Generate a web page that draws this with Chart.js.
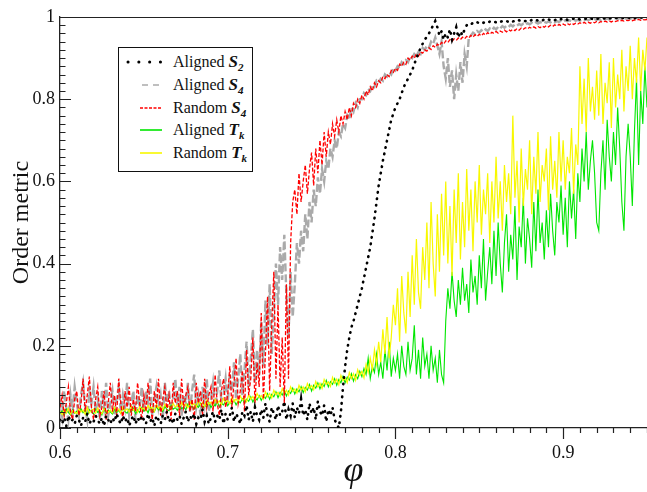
<!DOCTYPE html>
<html>
<head>
<meta charset="utf-8">
<script src="https://cdn.jsdelivr.net/npm/chart.js@4/dist/chart.umd.min.js"></script>
<style>
  body { margin: 0; background: #fff; }
  #wrap { position: relative; width: 647px; height: 492px; }
  #legend {
    position: absolute; left: 118px; top: 47px; width: 133px; height: 123px;
    border: 1px solid #111; background: #fff;
    font-family: 'Liberation Serif', 'Times New Roman', serif; font-size: 16px; color: #111;
  }
  #legend .row { position: absolute; left: 6px; height: 22px; display: flex; align-items: center; white-space: nowrap; }
  #legend svg { display: block; }
  #legend .sym { font-weight: bold; font-style: italic; font-size: 17px; }
  #legend sub { font-size: 11px; vertical-align: -4px; line-height: 0; }
</style>
</head>
<body>
<div id="wrap">
  <canvas id="chart" width="647" height="492"></canvas>
  <div id="legend"></div>
</div>
<script>
// packing fraction samples, 8 per 0.01
const phi = [
  0.6, 0.60125, 0.6025, 0.60375, 0.605, 0.60625, 0.6075, 0.60875,
  0.61, 0.61125, 0.6125, 0.61375, 0.615, 0.61625, 0.6175, 0.61875,
  0.62, 0.62125, 0.6225, 0.62375, 0.625, 0.62625, 0.6275, 0.62875,
  0.63, 0.63125, 0.6325, 0.63375, 0.635, 0.63625, 0.6375, 0.63875,
  0.64, 0.64125, 0.6425, 0.64375, 0.645, 0.64625, 0.6475, 0.64875,
  0.65, 0.65125, 0.6525, 0.65375, 0.655, 0.65625, 0.6575, 0.65875,
  0.66, 0.66125, 0.6625, 0.66375, 0.665, 0.66625, 0.6675, 0.66875,
  0.67, 0.67125, 0.6725, 0.67375, 0.675, 0.67625, 0.6775, 0.67875,
  0.68, 0.68125, 0.6825, 0.68375, 0.685, 0.68625, 0.6875, 0.68875,
  0.69, 0.69125, 0.6925, 0.69375, 0.695, 0.69625, 0.6975, 0.69875,
  0.7, 0.70125, 0.7025, 0.70375, 0.705, 0.70625, 0.7075, 0.70875,
  0.71, 0.71125, 0.7125, 0.71375, 0.715, 0.71625, 0.7175, 0.71875,
  0.72, 0.72125, 0.7225, 0.72375, 0.725, 0.72625, 0.7275, 0.72875,
  0.73, 0.73125, 0.7325, 0.73375, 0.735, 0.73625, 0.7375, 0.73875,
  0.74, 0.74125, 0.7425, 0.74375, 0.745, 0.74625, 0.7475, 0.74875,
  0.75, 0.75125, 0.7525, 0.75375, 0.755, 0.75625, 0.7575, 0.75875,
  0.76, 0.76125, 0.7625, 0.76375, 0.765, 0.76625, 0.7675, 0.76875,
  0.77, 0.77125, 0.7725, 0.77375, 0.775, 0.77625, 0.7775, 0.77875,
  0.78, 0.78125, 0.7825, 0.78375, 0.785, 0.78625, 0.7875, 0.78875,
  0.79, 0.79125, 0.7925, 0.79375, 0.795, 0.79625, 0.7975, 0.79875,
  0.8, 0.80125, 0.8025, 0.80375, 0.805, 0.80625, 0.8075, 0.80875,
  0.81, 0.81125, 0.8125, 0.81375, 0.815, 0.81625, 0.8175, 0.81875,
  0.82, 0.82125, 0.8225, 0.82375, 0.825, 0.82625, 0.8275, 0.82875,
  0.83, 0.83125, 0.8325, 0.83375, 0.835, 0.83625, 0.8375, 0.83875,
  0.84, 0.84125, 0.8425, 0.84375, 0.845, 0.84625, 0.8475, 0.84875,
  0.85, 0.85125, 0.8525, 0.85375, 0.855, 0.85625, 0.8575, 0.85875,
  0.86, 0.86125, 0.8625, 0.86375, 0.865, 0.86625, 0.8675, 0.86875,
  0.87, 0.87125, 0.8725, 0.87375, 0.875, 0.87625, 0.8775, 0.87875,
  0.88, 0.88125, 0.8825, 0.88375, 0.885, 0.88625, 0.8875, 0.88875,
  0.89, 0.89125, 0.8925, 0.89375, 0.895, 0.89625, 0.8975, 0.89875,
  0.9, 0.90125, 0.9025, 0.90375, 0.905, 0.90625, 0.9075, 0.90875,
  0.91, 0.91125, 0.9125, 0.91375, 0.915, 0.91625, 0.9175, 0.91875,
  0.92, 0.92125, 0.9225, 0.92375, 0.925, 0.92625, 0.9275, 0.92875,
  0.93, 0.93125, 0.9325, 0.93375, 0.935, 0.93625, 0.9375, 0.93875,
  0.94, 0.94125, 0.9425, 0.94375, 0.945, 0.94625, 0.9475, 0.94875,
  0.95
];

const alignedS2 = [
  0.02, 0.01, 0.025, 0.005, 0.03, 0.015, 0.02, 0.01,
  0.03, 0.02, 0.005, 0.025, 0.015, 0.035, 0.01, 0.02,
  0.015, 0.03, 0.02, 0.01, 0.025, 0.005, 0.03, 0.02,
  0.01, 0.025, 0.015, 0.035, 0.02, 0.01, 0.03, 0.015,
  0.025, 0.005, 0.02, 0.03, 0.01, 0.025, 0.015, 0.03,
  0.02, 0.01, 0.035, 0.015, 0.025, 0.005, 0.03, 0.02,
  0.01, 0.03, 0.02, 0.04, 0.015, 0.025, 0.01, 0.035,
  0.02, 0.03, 0.01, 0.025, 0.04, 0.015, 0.03, 0.02,
  0.035, 0.01, 0.025, 0.02, 0.045, 0.015, 0.03, 0.01,
  0.025, 0.04, 0.015, 0.03, 0.02, 0.045, 0.01, 0.035,
  0.02, 0.03, 0.05, 0.015, 0.035, 0.025, 0.01, 0.04,
  0.03, 0.055, 0.02, 0.04, 0.015, 0.05, 0.03, 0.02,
  0.045, 0.025, 0.06, 0.03, 0.015, 0.05, 0.035, 0.02,
  0.055, 0.03, 0.04, 0.065, 0.02, 0.045, 0.03, 0.06,
  0.025, 0.05, 0.035, 0.07, 0.03, 0.045, 0.02, 0.06,
  0.035, 0.05, 0.02, 0.065, 0.04, 0.03, 0.055, 0.015,
  0.045, 0.03, 0.05, 0.02, 0.01, 0.0, 0.04, 0.10,
  0.15, 0.19, 0.22, 0.245, 0.26, 0.28, 0.30, 0.32,
  0.34, 0.365, 0.39, 0.415, 0.44, 0.475, 0.51, 0.55,
  0.59, 0.62, 0.65, 0.675, 0.70, 0.725, 0.75, 0.765,
  0.78, 0.79, 0.80, 0.815, 0.83, 0.84, 0.85, 0.86,
  0.87, 0.885, 0.90, 0.912, 0.925, 0.935, 0.945, 0.952,
  0.96, 0.97, 0.98, 0.99, 0.975, 0.955, 0.965, 0.945,
  0.96, 0.95, 0.97, 0.945, 0.96, 0.975, 0.95, 0.965,
  0.955, 0.97, 0.98, 0.984, 0.982, 0.986, 0.984, 0.987,
  0.985, 0.988, 0.986, 0.988, 0.986, 0.989, 0.987, 0.989,
  0.987, 0.99, 0.988, 0.99, 0.988, 0.99, 0.988, 0.991,
  0.989, 0.991, 0.989, 0.992, 0.99, 0.992, 0.99, 0.992,
  0.99, 0.993, 0.991, 0.993, 0.991, 0.993, 0.991, 0.994,
  0.992, 0.994, 0.992, 0.994, 0.992, 0.995, 0.993, 0.995,
  0.993, 0.995, 0.993, 0.995, 0.994, 0.996, 0.994, 0.996,
  0.994, 0.996, 0.995, 0.996, 0.995, 0.997, 0.995, 0.997,
  0.995, 0.997, 0.996, 0.997, 0.996, 0.998, 0.996, 0.998,
  0.996, 0.998, 0.997, 0.998, 0.997, 0.998, 0.997, 0.999,
  0.997, 0.999, 0.997, 0.999, 0.998, 0.999, 0.998, 0.999,
  0.998
];

const alignedS4 = [
  0.07, 0.03, 0.09, 0.05, 0.02, 0.08, 0.04, 0.10,
  0.06, 0.03, 0.08, 0.11, 0.05, 0.02, 0.09, 0.06,
  0.10, 0.04, 0.07, 0.02, 0.09, 0.05, 0.11, 0.03,
  0.06, 0.09, 0.03, 0.07, 0.10, 0.04, 0.08, 0.05,
  0.11, 0.03, 0.06, 0.09, 0.02, 0.08, 0.05, 0.10,
  0.04, 0.09, 0.06, 0.12, 0.03, 0.07, 0.10, 0.05,
  0.08, 0.02, 0.11, 0.06, 0.09, 0.04, 0.07, 0.12,
  0.05, 0.10, 0.03, 0.08, 0.06, 0.11, 0.04, 0.09,
  0.13, 0.05, 0.08, 0.03, 0.10, 0.06, 0.12, 0.04,
  0.07, 0.11, 0.05, 0.09, 0.14, 0.06, 0.08, 0.12,
  0.06, 0.13, 0.09, 0.16, 0.07, 0.12, 0.18, 0.08,
  0.14, 0.21, 0.10, 0.17, 0.24, 0.11, 0.19, 0.13,
  0.26, 0.15, 0.31, 0.20, 0.35, 0.18, 0.28, 0.40,
  0.30, 0.44, 0.36, 0.47, 0.32, 0.22, 0.38, 0.27,
  0.35, 0.45, 0.40, 0.48, 0.43, 0.52, 0.46, 0.55,
  0.50, 0.58, 0.54, 0.61, 0.57, 0.63, 0.60, 0.65,
  0.63, 0.68, 0.66, 0.70, 0.68, 0.72, 0.71, 0.74,
  0.73, 0.76, 0.75, 0.78, 0.77, 0.79, 0.78, 0.80,
  0.80, 0.815, 0.81, 0.825, 0.82, 0.835, 0.83, 0.845,
  0.84, 0.85, 0.845, 0.86, 0.855, 0.865, 0.86, 0.875,
  0.87, 0.88, 0.875, 0.89, 0.885, 0.895, 0.89, 0.905,
  0.90, 0.91, 0.905, 0.915, 0.91, 0.925, 0.92, 0.93,
  0.925, 0.94, 0.935, 0.95, 0.93, 0.91, 0.94, 0.88,
  0.85, 0.90, 0.83, 0.87, 0.80, 0.86, 0.82, 0.89,
  0.84, 0.91, 0.88, 0.95, 0.955, 0.962, 0.958, 0.966,
  0.962, 0.968, 0.964, 0.97, 0.966, 0.972, 0.968, 0.974,
  0.97, 0.976, 0.972, 0.978, 0.974, 0.979, 0.976, 0.981,
  0.977, 0.982, 0.979, 0.983, 0.98, 0.984, 0.981, 0.985,
  0.982, 0.986, 0.983, 0.987, 0.984, 0.988, 0.985, 0.988,
  0.986, 0.989, 0.987, 0.99, 0.987, 0.99, 0.988, 0.991,
  0.989, 0.992, 0.99, 0.992, 0.99, 0.993, 0.991, 0.993,
  0.991, 0.994, 0.992, 0.994, 0.992, 0.995, 0.993, 0.995,
  0.993, 0.995, 0.993, 0.996, 0.994, 0.996, 0.994, 0.996,
  0.995, 0.997, 0.995, 0.997, 0.995, 0.997, 0.996, 0.997,
  0.996, 0.998, 0.996, 0.998, 0.997, 0.998, 0.997, 0.998,
  0.998
];

const randomS4 = [
  0.05, 0.08, 0.03, 0.06, 0.10, 0.04, 0.02, 0.07,
  0.09, 0.03, 0.06, 0.12, 0.04, 0.08, 0.125, 0.05,
  0.02, 0.07, 0.10, 0.03, 0.05, 0.09, 0.02, 0.06,
  0.11, 0.04, 0.08, 0.03, 0.12, 0.06, 0.02, 0.09,
  0.05, 0.10, 0.03, 0.07, 0.04, 0.11, 0.06, 0.02,
  0.08, 0.04, 0.11, 0.06, 0.02, 0.09, 0.05, 0.12,
  0.03, 0.07, 0.10, 0.04, 0.08, 0.02, 0.11, 0.06,
  0.09, 0.03, 0.12, 0.05, 0.08, 0.10, 0.04, 0.07,
  0.02, 0.11, 0.06, 0.09, 0.03, 0.12, 0.05, 0.08,
  0.10, 0.04, 0.13, 0.06, 0.03, 0.09, 0.12, 0.05,
  0.08, 0.15, 0.05, 0.11, 0.17, 0.06, 0.09, 0.14,
  0.04, 0.19, 0.08, 0.12, 0.22, 0.06, 0.16, 0.10,
  0.28, 0.07, 0.18, 0.32, 0.09, 0.25, 0.38, 0.12,
  0.30, 0.10, 0.22, 0.06, 0.35, 0.12, 0.45, 0.55,
  0.58, 0.52, 0.62, 0.55, 0.60, 0.64, 0.57, 0.63,
  0.67, 0.59, 0.68, 0.62, 0.70, 0.64, 0.72, 0.66,
  0.72, 0.69, 0.74, 0.71, 0.75, 0.72, 0.76, 0.74,
  0.77, 0.75, 0.78, 0.76, 0.79, 0.78, 0.80, 0.79,
  0.81, 0.80, 0.82, 0.81, 0.83, 0.82, 0.84, 0.83,
  0.845, 0.84, 0.855, 0.85, 0.86, 0.855, 0.87, 0.865,
  0.875, 0.87, 0.885, 0.88, 0.89, 0.885, 0.90, 0.895,
  0.905, 0.90, 0.91, 0.905, 0.915, 0.912, 0.92, 0.917,
  0.925, 0.921, 0.93, 0.926, 0.934, 0.93, 0.938, 0.934,
  0.942, 0.938, 0.945, 0.941, 0.947, 0.943, 0.949, 0.945,
  0.951, 0.947, 0.953, 0.949, 0.955, 0.951, 0.957, 0.953,
  0.958, 0.954, 0.96, 0.956, 0.962, 0.958, 0.963, 0.96,
  0.965, 0.961, 0.966, 0.963, 0.968, 0.964, 0.969, 0.966,
  0.97, 0.967, 0.972, 0.968, 0.973, 0.97, 0.974, 0.971,
  0.975, 0.972, 0.976, 0.973, 0.977, 0.974, 0.978, 0.975,
  0.979, 0.976, 0.98, 0.977, 0.981, 0.978, 0.982, 0.979,
  0.983, 0.98, 0.984, 0.981, 0.985, 0.982, 0.985, 0.983,
  0.986, 0.983, 0.987, 0.984, 0.987, 0.985, 0.988, 0.986,
  0.989, 0.986, 0.989, 0.987, 0.99, 0.988, 0.99, 0.988,
  0.991, 0.989, 0.991, 0.99, 0.992, 0.99, 0.992, 0.991,
  0.993, 0.991, 0.993, 0.992, 0.994, 0.992, 0.994, 0.993,
  0.994
];

const alignedTk = [
  0.035, 0.042, 0.03, 0.046, 0.038, 0.032, 0.044, 0.036,
  0.041, 0.033, 0.047, 0.037, 0.043, 0.031, 0.045, 0.039,
  0.034, 0.046, 0.038, 0.042, 0.032, 0.048, 0.036, 0.044,
  0.039, 0.034, 0.047, 0.037, 0.043, 0.035, 0.049, 0.04,
  0.036, 0.045, 0.039, 0.048, 0.035, 0.044, 0.038, 0.05,
  0.041, 0.047, 0.037, 0.05, 0.043, 0.039, 0.052, 0.044,
  0.048, 0.04, 0.053, 0.045, 0.042, 0.055, 0.046, 0.05,
  0.043, 0.056, 0.047, 0.051, 0.044, 0.058, 0.049, 0.053,
  0.046, 0.057, 0.05, 0.06, 0.048, 0.055, 0.052, 0.062,
  0.05, 0.058, 0.054, 0.064, 0.051, 0.06, 0.056, 0.066,
  0.054, 0.063, 0.058, 0.068, 0.056, 0.066, 0.061, 0.071,
  0.06, 0.07, 0.065, 0.076, 0.063, 0.074, 0.068, 0.079,
  0.067, 0.078, 0.072, 0.084, 0.07, 0.082, 0.076, 0.088,
  0.074, 0.087, 0.08, 0.092, 0.078, 0.09, 0.084, 0.097,
  0.083, 0.095, 0.088, 0.101, 0.086, 0.099, 0.092, 0.106,
  0.09, 0.104, 0.097, 0.11, 0.095, 0.108, 0.101, 0.116,
  0.10, 0.113, 0.106, 0.12, 0.104, 0.118, 0.11, 0.126,
  0.11, 0.124, 0.116, 0.132, 0.114, 0.13, 0.12, 0.138,
  0.125, 0.145, 0.13, 0.17, 0.12, 0.15, 0.135, 0.18,
  0.13, 0.16, 0.12, 0.19, 0.14, 0.21, 0.125, 0.17,
  0.14, 0.18, 0.12, 0.20, 0.15, 0.13, 0.21, 0.14,
  0.17, 0.25, 0.13, 0.19, 0.12, 0.22, 0.15, 0.18,
  0.12, 0.20, 0.14, 0.17, 0.11, 0.19, 0.13, 0.11,
  0.26, 0.34, 0.29, 0.38, 0.31, 0.27, 0.36, 0.30,
  0.39, 0.31, 0.35, 0.28, 0.41, 0.33, 0.37, 0.30,
  0.42, 0.34, 0.46, 0.31, 0.38, 0.44, 0.35, 0.48,
  0.37, 0.50, 0.40, 0.33, 0.45, 0.52, 0.38, 0.47,
  0.41, 0.54, 0.36, 0.49, 0.44, 0.56, 0.40, 0.51,
  0.46, 0.39, 0.55, 0.43, 0.58, 0.45, 0.50, 0.41,
  0.53, 0.44, 0.57, 0.48, 0.42, 0.55, 0.50, 0.59,
  0.47, 0.56, 0.44, 0.60, 0.51, 0.58, 0.46, 0.62,
  0.55, 0.68, 0.60, 0.72, 0.58, 0.65, 0.70, 0.62,
  0.50, 0.48, 0.62, 0.70, 0.58, 0.75, 0.66, 0.60,
  0.72, 0.64, 0.78, 0.68, 0.55, 0.48, 0.66, 0.74,
  0.66, 0.54, 0.72, 0.85, 0.64, 0.82, 0.74, 0.88,
  0.78
];

const randomTk = [
  0.04, 0.033, 0.045, 0.036, 0.048, 0.034, 0.042, 0.038,
  0.035, 0.047, 0.039, 0.044, 0.033, 0.05, 0.037, 0.043,
  0.046, 0.036, 0.049, 0.04, 0.035, 0.047, 0.041, 0.038,
  0.044, 0.037, 0.051, 0.041, 0.046, 0.036, 0.05, 0.042,
  0.047, 0.039, 0.053, 0.043, 0.049, 0.038, 0.052, 0.045,
  0.049, 0.042, 0.055, 0.046, 0.051, 0.041, 0.057, 0.048,
  0.053, 0.044, 0.058, 0.05, 0.054, 0.045, 0.06, 0.051,
  0.056, 0.048, 0.062, 0.052, 0.058, 0.049, 0.064, 0.055,
  0.059, 0.051, 0.066, 0.056, 0.062, 0.053, 0.068, 0.058,
  0.063, 0.055, 0.07, 0.06, 0.066, 0.057, 0.072, 0.062,
  0.067, 0.059, 0.075, 0.064, 0.071, 0.062, 0.078, 0.068,
  0.073, 0.064, 0.081, 0.07, 0.077, 0.067, 0.084, 0.074,
  0.079, 0.07, 0.088, 0.076, 0.084, 0.073, 0.092, 0.081,
  0.087, 0.077, 0.096, 0.084, 0.092, 0.08, 0.10, 0.089,
  0.095, 0.085, 0.104, 0.092, 0.10, 0.088, 0.108, 0.097,
  0.103, 0.093, 0.113, 0.10, 0.109, 0.096, 0.118, 0.106,
  0.112, 0.101, 0.123, 0.109, 0.119, 0.105, 0.128, 0.115,
  0.122, 0.11, 0.135, 0.12, 0.132, 0.116, 0.142, 0.128,
  0.138, 0.122, 0.155, 0.135, 0.17, 0.142, 0.19, 0.155,
  0.21, 0.16, 0.24, 0.18, 0.27, 0.17, 0.22, 0.30,
  0.25, 0.34, 0.21, 0.37, 0.28, 0.23, 0.38, 0.27,
  0.42, 0.30, 0.46, 0.33, 0.29, 0.44, 0.36, 0.50,
  0.34, 0.55, 0.40, 0.32, 0.52, 0.38, 0.57, 0.42,
  0.60, 0.40, 0.54, 0.37, 0.58, 0.45, 0.62, 0.41,
  0.55, 0.44, 0.63, 0.48, 0.58, 0.43, 0.60, 0.50,
  0.64, 0.47, 0.58, 0.52, 0.62, 0.45, 0.60, 0.50,
  0.66, 0.51, 0.60, 0.48, 0.64, 0.55, 0.62, 0.52,
  0.76, 0.56, 0.65, 0.50, 0.68, 0.54, 0.63, 0.58,
  0.70, 0.52, 0.66, 0.57, 0.72, 0.55, 0.64, 0.60,
  0.68, 0.53, 0.71, 0.58, 0.65, 0.56, 0.72, 0.60,
  0.70, 0.58, 0.66, 0.62, 0.73, 0.57, 0.69, 0.64,
  0.88, 0.74, 0.85, 0.72, 0.90, 0.77, 0.83, 0.75,
  0.87, 0.76, 0.91, 0.74, 0.84, 0.79, 0.89, 0.73,
  0.90, 0.78, 0.86, 0.80, 0.92, 0.77, 0.88, 0.82,
  0.93, 0.80, 0.90, 0.84, 0.95, 0.82, 0.92, 0.87,
  0.95
];

// legend wording: name, symbol, subscript
const seriesNames = ['Aligned', 'Aligned', 'Random', 'Aligned', 'Random'];
const seriesSymbols = ['S', 'S', 'S', 'T', 'T'];
const seriesSubs = ['2', '4', '4', 'k', 'k'];
const seriesValues = [alignedS2, alignedS4, randomS4, alignedTk, randomTk];

const xTickValues = [0.6, 0.7, 0.8, 0.9];
const yTickValues = [0, 0.2, 0.4, 0.6, 0.8, 1];

const serif = "'Liberation Serif', 'Times New Roman', serif";

// line look per series, and the stacking (lower order is drawn on top)
const styles = [
  { color: '#000000', width: 2.6, dash: [0.5, 6], cap: 'round', order: 0, legDash: [0.1, 10.7], from: 3, to: 37 },
  { color: '#aaaaaa', width: 2.4, dash: [8, 3], cap: 'butt', order: 4, legDash: [6, 5], from: 17, to: 34 },
  { color: '#ff0000', width: 1.3, dash: [4, 2], cap: 'butt', order: 1, legDash: [3, 1.5], from: 15, to: 36 },
  { color: '#00e600', width: 1.1, dash: [], cap: 'butt', order: 3, legDash: [], from: 15, to: 37 },
  { color: '#f8f800', width: 1.2, dash: [], cap: 'butt', order: 2, legDash: [], from: 15, to: 37 }
];

const datasets = seriesValues.map((vals, i) => ({
  label: seriesNames[i] + ' ' + seriesSymbols[i] + seriesSubs[i],
  data: phi.map((x, j) => ({ x: x, y: vals[j] })),
  borderColor: styles[i].color,
  borderWidth: styles[i].width,
  borderDash: styles[i].dash,
  borderCapStyle: styles[i].cap,
  order: styles[i].order,
  pointRadius: 0,
  tension: 0,
  fill: false
}));

// inward y ticks, outward x ticks with minor marks, and the top frame line
const frameTicks = {
  id: 'frameTicks',
  afterDraw(chart) {
    const { ctx, chartArea: a, scales: { x, y } } = chart;
    ctx.save();
    ctx.strokeStyle = '#222';
    ctx.lineWidth = 1.2;
    ctx.beginPath();
    ctx.moveTo(a.left, a.top + 0.5);
    ctx.lineTo(a.right, a.top + 0.5);
    for (let k = 0; k <= 35; k++) {
      const px = Math.round(x.getPixelForValue(0.6 + k * 0.01)) + 0.5;
      const len = k % 10 === 0 ? 11 : 5;
      ctx.moveTo(px, a.bottom);
      ctx.lineTo(px, a.bottom + len);
    }
    for (let k = 0; k <= 50; k++) {
      const py = Math.round(y.getPixelForValue(k * 0.02)) + 0.5;
      const len = k % 10 === 0 ? 11 : 5.5;
      ctx.moveTo(a.left, py);
      ctx.lineTo(a.left + len, py);
    }
    ctx.stroke();
    ctx.restore();
  }
};

const chart = new Chart(document.getElementById('chart'), {
  type: 'line',
  data: { datasets: datasets },
  options: {
    responsive: false,
    animation: false,
    layout: { padding: { top: 17, right: 0, left: 0, bottom: 0 } },
    plugins: { legend: { display: false }, tooltip: { enabled: false } },
    scales: {
      x: {
        type: 'linear',
        min: 0.6,
        max: 0.95,
        afterBuildTicks: s => { s.ticks = xTickValues.map(v => ({ value: v })); },
        afterFit: s => { s.height = 64; },
        grid: { display: true, drawOnChartArea: false, drawTicks: false },
        border: { display: true, color: '#222', width: 1.3 },
        ticks: {
          padding: 14,
          color: '#111',
          font: { family: serif, size: 18 },
          maxRotation: 0,
          callback: v => v.toFixed(1)
        },
        title: {
          display: true,
          text: 'φ',
          color: '#111',
          font: { family: serif, size: 36, style: 'italic', lineHeight: 1 },
          padding: { top: 0, bottom: 2 }
        }
      },
      y: {
        min: 0,
        max: 1,
        afterBuildTicks: s => { s.ticks = yTickValues.map(v => ({ value: v })); },
        afterFit: s => { s.width = 60; },
        grid: { display: true, drawOnChartArea: false, drawTicks: false },
        border: { display: true, color: '#222', width: 1.3 },
        ticks: {
          padding: 5,
          color: '#111',
          font: { family: serif, size: 18 },
          callback: v => (v === 0 || v === 1) ? String(v) : v.toFixed(1)
        },
        title: {
          display: true,
          text: 'Order metric',
          color: '#111',
          font: { family: serif, size: 24 },
          padding: { top: 7, bottom: 0 }
        }
      }
    }
  },
  plugins: [frameTicks]
});

// boxed legend in the upper left, built from the datasets
const legend = document.getElementById('legend');
const rowTops = [3, 25.75, 48.5, 71.25, 94];
chart.data.datasets.forEach((ds, i) => {
  const st = styles[i];
  const row = document.createElement('div');
  row.className = 'row';
  row.style.top = rowTops[i] + 'px';
  row.innerHTML =
    `<svg width="48" height="10"><line x1="${st.from}" y1="5" x2="${st.to}" y2="5" stroke="${ds.borderColor}" ` +
    `stroke-width="${st.cap === 'round' ? 3 : 1.6}" stroke-dasharray="${st.legDash.join(' ') || 'none'}" stroke-linecap="${st.cap}"/></svg>` +
    `<span>${seriesNames[i]} <span class="sym">${seriesSymbols[i]}<sub>${seriesSubs[i]}</sub></span></span>`;
  legend.appendChild(row);
});
</script>
</body>
</html>
